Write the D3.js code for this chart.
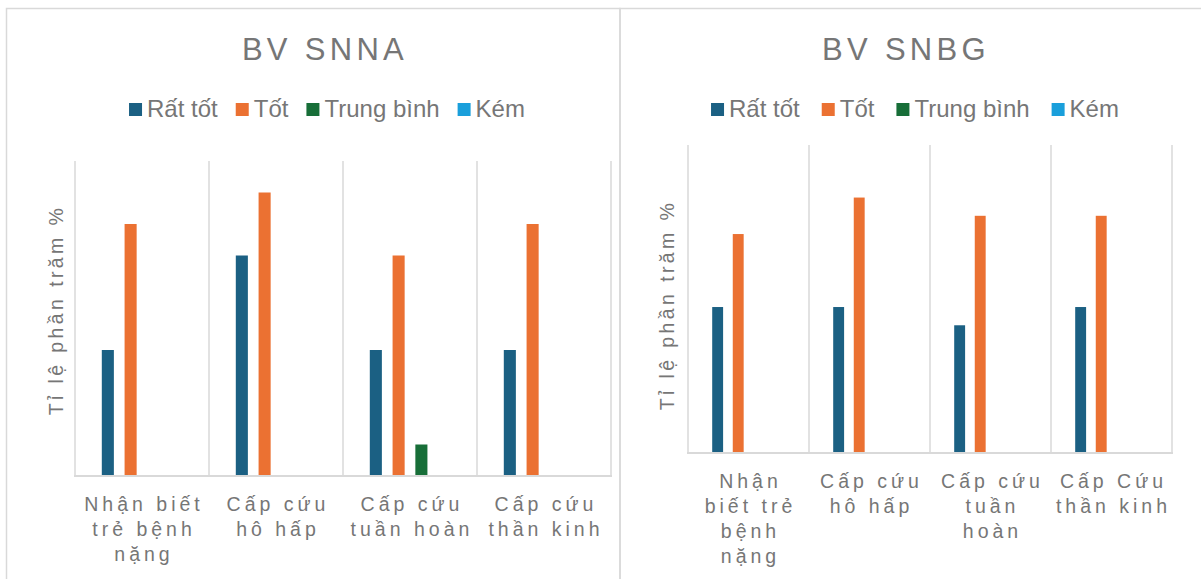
<!DOCTYPE html>
<html>
<head>
<meta charset="utf-8">
<script src="https://cdn.jsdelivr.net/npm/d3@7"></script>
<style>
  body { margin: 0; background: #fff; }
  svg { display: block; font-family: "Liberation Sans", Arial, sans-serif; }
</style>
</head>
<body>
<svg id="chart" width="1201" height="579"></svg>
<script>
// series + colours shared by both charts
const series = ['Rất tốt', 'Tốt', 'Trung bình', 'Kém'];
const colors = ['#1b6083', '#eb7132', '#176e38', '#1a9fdb'];

// BV SNNA
const snnaCategories = [['Nhận biết', 'trẻ bệnh', 'nặng'], ['Cấp cứu', 'hô hấp'], ['Cấp cứu', 'tuần hoàn'], ['Cấp cứu', 'thần kinh']];
const snnaRatTot = [40, 70, 40, 40];
const snnaTot = [80, 90, 70, 80];
const snnaTrungBinh = [0, 0, 10, 0];
const snnaKem = [0, 0, 0, 0];

// BV SNBG
const snbgCategories = [['Nhận', 'biết trẻ', 'bệnh', 'nặng'], ['Cấp cứu', 'hô hấp'], ['Cấp cứu', 'tuần', 'hoàn'], ['Cấp Cứu', 'thần kinh']];
const snbgRatTot = [40, 40, 35, 40];
const snbgTot = [60, 70, 65, 65];
const snbgTrungBinh = [0, 0, 0, 0];
const snbgKem = [0, 0, 0, 0];

const textColor = '#767676';
const gridColor = '#d9d9d9';

const svg = d3.select('#chart');

// panel frames (they share the middle edge)
svg.append('rect').attr('x', 6.5).attr('y', 8.5).attr('width', 613.5).attr('height', 600)
    .attr('fill', 'none').attr('stroke', gridColor).attr('stroke-width', 1.5);
svg.append('rect').attr('x', 620).attr('y', 8.5).attr('width', 600).attr('height', 600)
    .attr('fill', 'none').attr('stroke', gridColor).attr('stroke-width', 1.5);

function drawPanel(cfg) {
    const g = svg.append('g');
    const values = [cfg.ratTot, cfg.tot, cfg.trungBinh, cfg.kem];
    const idx = d3.range(cfg.categories.length);

    const x = d3.scaleBand().domain(idx).range([cfg.left, cfg.right]);
    const xs = d3.scaleBand().domain(series)
        .range([x.bandwidth() * 0.2, x.bandwidth() * 0.8])
        .paddingInner(0.47);
    const y = d3.scaleLinear().domain([0, cfg.yMax]).range([cfg.bottom, cfg.top]);

    // title
    g.append('text')
        .attr('x', cfg.titleX + 2)
        .attr('y', 59.5)
        .attr('text-anchor', 'middle')
        .attr('fill', textColor)
        .style('font-size', '31px')
        .style('letter-spacing', '4.3px')
        .text(cfg.title);

    // legend
    const legend = g.append('g');
    let lx = 0;
    series.forEach((s, i) => {
        legend.append('rect')
            .attr('x', lx).attr('y', 103)
            .attr('width', 13).attr('height', 13)
            .attr('fill', colors[i]);
        const t = legend.append('text')
            .attr('x', lx + 18).attr('y', 117)
            .attr('fill', textColor)
            .style('font-size', '24px')
            .text(s);
        lx += 18 + t.node().getComputedTextLength() + cfg.legendGap;
    });
    const legendWidth = lx - cfg.legendGap;
    legend.attr('transform', `translate(${cfg.legendX - legendWidth / 2},0)`);

    // category separators
    const seps = idx.map(i => x(i)).concat([cfg.right]);
    g.selectAll('.sep').data(seps).join('line')
        .attr('x1', d => d).attr('x2', d => d)
        .attr('y1', cfg.top).attr('y2', cfg.bottom)
        .attr('stroke', gridColor).attr('stroke-width', 1.5);

    // bars
    series.forEach((s, si) => {
        g.selectAll('.bar' + si).data(values[si]).join('rect')
            .attr('x', (d, i) => x(i) + xs(s))
            .attr('y', d => y(d))
            .attr('width', xs.bandwidth())
            .attr('height', d => y(0) - y(d))
            .attr('fill', colors[si]);
    });

    // baseline
    g.append('line')
        .attr('x1', cfg.left - 1).attr('x2', cfg.right + 1)
        .attr('y1', cfg.bottom).attr('y2', cfg.bottom)
        .attr('stroke', gridColor).attr('stroke-width', 2);

    // category labels
    idx.forEach(i => {
        const t = g.append('text')
            .attr('text-anchor', 'middle')
            .attr('fill', textColor)
            .style('font-size', '19.5px')
            .style('letter-spacing', '4px');
        cfg.categories[i].forEach((line, li) => {
            t.append('tspan')
                .attr('x', x(i) + x.bandwidth() / 2 + 2)
                .attr('y', cfg.bottom + 34.5 + li * 25)
                .text(line);
        });
    });

    // y axis title
    g.append('text')
        .attr('transform', `translate(${cfg.yTitleX},${cfg.yTitleY}) rotate(-90)`)
        .attr('text-anchor', 'middle')
        .attr('fill', textColor)
        .style('font-size', '19.5px')
        .style('letter-spacing', '3.4px')
        .text('Tỉ lệ phần trăm %');
}

drawPanel({
    title: 'BV SNNA', titleX: 323, legendX: 327, legendGap: 18,
    categories: snnaCategories,
    ratTot: snnaRatTot, tot: snnaTot, trungBinh: snnaTrungBinh, kem: snnaKem,
    left: 75, right: 611, top: 161, bottom: 476, yMax: 100,
    yTitleX: 63, yTitleY: 310
});

drawPanel({
    title: 'BV SNBG', titleX: 904, legendX: 915, legendGap: 22,
    categories: snbgCategories,
    ratTot: snbgRatTot, tot: snbgTot, trungBinh: snbgTrungBinh, kem: snbgKem,
    left: 688, right: 1172, top: 145, bottom: 453, yMax: 84.4,
    yTitleX: 674, yTitleY: 305
});
</script>
</body>
</html>
